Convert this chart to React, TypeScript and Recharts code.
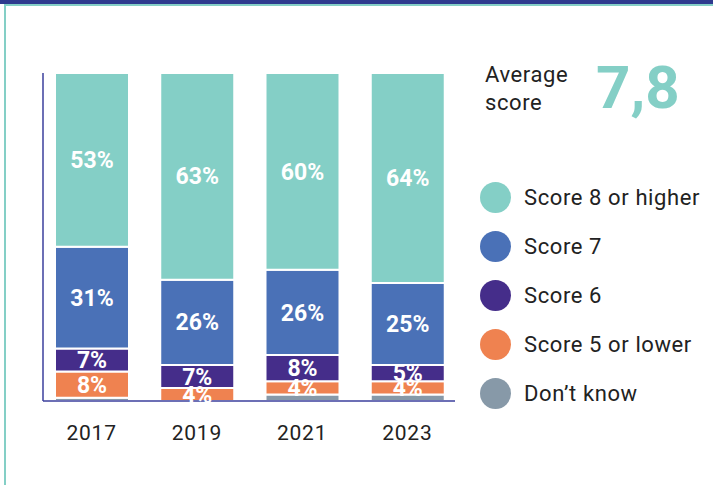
import { BarChart, Bar, XAxis, YAxis, LabelList } from 'recharts';

const years = ['2017', '2019', '2021', '2023'];
const score8Plus = [53, 63, 60, 64];
const score7 = [31, 26, 26, 25];
const score6 = [7, 7, 8, 5];
const score5Lower = [8, 4, 4, 4];
const dontKnow = [1, 0, 2, 2];
const averageScore = '7,8';

const series = [
    { key: 'score8', name: 'Score 8 or higher', color: '#84cfc6', values: score8Plus, label: true },
    { key: 'score7', name: 'Score 7', color: '#4a71b7', values: score7, label: true },
    { key: 'score6', name: 'Score 6', color: '#452d8a', values: score6, label: true },
    { key: 'score5', name: 'Score 5 or lower', color: '#ef8250', values: score5Lower, label: true },
    { key: 'dk', name: 'Don\u2019t know', color: '#8799a8', values: dontKnow, label: false },
];

const data = years.map((year, i) => {
    const row: Record<string, string | number> = { year };
    series.forEach((s) => { row[s.key] = s.values[i]; });
    return row;
});

// stacked from the bottom, so draw in reverse order
const stackOrder = [...series].reverse();

const font = 'Roboto, "DejaVu Sans", sans-serif';

function LegendList() {
    return (
        <div style={{ position: 'absolute', top: 173, left: 480, fontFamily: font }}>
            {series.map((s) => (
                <div key={s.key} style={{ display: 'flex', alignItems: 'center', height: 49 }}>
                    <span style={{ width: 31, height: 31, borderRadius: '50%', background: s.color, display: 'inline-block' }} />
                    <span style={{ marginLeft: 13, fontSize: 22, letterSpacing: 0.6, color: '#222' }}>{s.name}</span>
                </div>
            ))}
        </div>
    );
}

export default function App() {
    return (
        <div style={{ position: 'fixed', top: 0, left: 0, width: 713, height: 485, background: '#fff', overflow: 'hidden', fontFamily: font }}>
            <div style={{ position: 'absolute', top: 0, left: 0, width: 713, height: 4, background: '#2e3a8e' }} />
            <div style={{ position: 'absolute', top: 4, left: 4, width: 709, height: 2, background: '#84cfc6' }} />
            <div style={{ position: 'absolute', top: 4, left: 4, width: 2, height: 481, background: '#84cfc6' }} />
            <div style={{ position: 'absolute', top: 61, left: 485, fontSize: 22, letterSpacing: 0.6, lineHeight: '28px', color: '#222' }}>
                Average<br />score
            </div>
            <div style={{ position: 'absolute', top: 52, left: 596, fontSize: 60, fontWeight: 700, color: '#84cfc6', lineHeight: '72px' }}>
                {averageScore}
            </div>
            <LegendList />
            <div style={{ position: 'absolute', top: 0, left: 0 }}>
                <BarChart
                    width={713}
                    height={485}
                    data={data}
                    margin={{ top: 73, left: 42, right: 258, bottom: 34 }}
                >
                    <XAxis
                        dataKey="year"
                        height={50}
                        tickLine={false}
                        axisLine={{ stroke: '#3b3f9c', strokeWidth: 1.5 }}
                        tick={{ fill: '#222', fontSize: 21, letterSpacing: 0.8, fontFamily: font }}
                        dy={16}
                        padding={{ left: -4, right: -5 }}
                    />
                    <YAxis
                        domain={[0, 100]}
                        width={1}
                        tick={false}
                        tickLine={false}
                        axisLine={{ stroke: '#3b3f9c', strokeWidth: 1.5 }}
                    />
                    {stackOrder.map((s) => (
                        <Bar
                            key={s.key}
                            dataKey={s.key}
                            name={s.name}
                            stackId="a"
                            fill={s.color}
                            stroke="#fff"
                            strokeWidth={2}
                            barSize={74}
                            isAnimationActive={false}
                        >
                            {s.label && (
                                <LabelList
                                    dataKey={s.key}
                                    position="center"
                                    fill="#fff"
                                    fontSize={23}
                                    fontWeight={700}
                                    fontFamily={font}
                                    formatter={(v: number) => `${v}%`}
                                />
                            )}
                        </Bar>
                    ))}
                </BarChart>
            </div>
        </div>
    );
}
